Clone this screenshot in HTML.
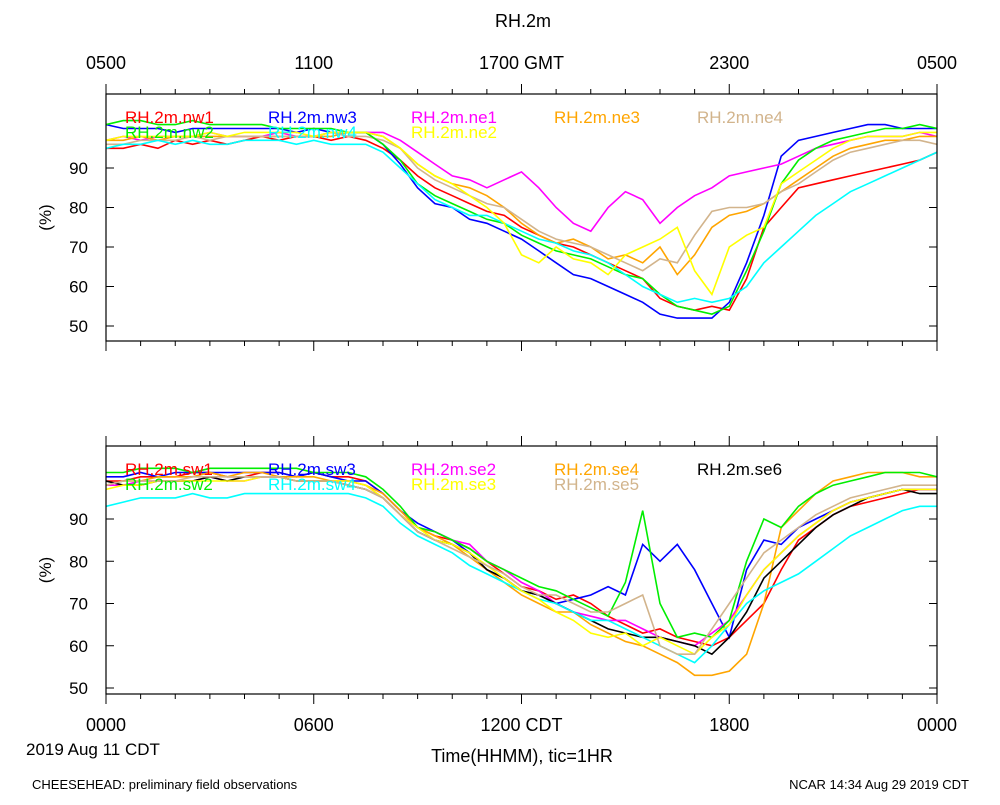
<!DOCTYPE html>
<html><head><meta charset="utf-8"><style>
body{margin:0;background:#fff}
svg{font-family:"Liberation Sans",sans-serif}
</style></head><body>
<svg id="c" width="1000" height="800"></svg>
<script>
const hours=[];for(let i=0;i<=48;i++)hours.push(i*0.5);
const topNames=["RH.2m.nw1","RH.2m.nw3","RH.2m.ne1","RH.2m.ne3","RH.2m.ne4","RH.2m.nw2","RH.2m.nw4","RH.2m.ne2"];
const topColors=["#ff0000","#0000ff","#ff00ff","#ffa500","#d2b48c","#00ee00","#00ffff","#ffff00"];
const nw1=[95,95,96,95,97,96,97,96,97,98,97,98,98,97,98,97,95,92,88,85,83,81,79,78,75,73,71,70,68,66,64,62,57,55,54,55,54,62,75,80,85,86,87,88,89,90,91,92,94];
const nw3=[101,100,100,100,99,100,100,100,100,100,100,99,100,99,99,99,96,91,85,81,80,77,76,74,72,69,66,63,62,60,58,56,53,52,52,52,56,66,78,93,97,98,99,100,101,101,100,100,100];
const ne1=[97,98,97,98,98,98,99,98,98,98,99,98,98,99,99,99,99,97,94,91,88,87,85,87,89,85,80,76,74,80,84,82,76,80,83,85,88,89,90,91,93,95,96,97,98,98,98,99,98];
const ne3=[97,97,98,97,98,98,98,98,98,98,98,98,98,98,99,99,98,95,91,88,86,85,83,80,76,73,71,72,70,67,68,66,70,63,68,75,78,79,81,84,87,90,93,95,96,97,97,98,98];
const ne4=[96,96,97,97,97,98,97,98,98,98,98,98,98,99,98,98,97,95,90,87,85,83,81,80,77,74,72,71,70,68,66,64,67,66,73,79,80,80,81,84,86,89,92,94,95,96,97,97,96];
const nw2=[101,102,102,101,101,102,101,101,101,101,100,100,100,100,99,99,96,92,86,83,81,79,77,76,73,71,69,68,67,65,63,62,58,55,54,53,55,64,74,86,92,95,97,98,99,100,100,101,100];
const nw4=[95,96,96,97,96,97,96,96,97,97,97,96,97,96,96,96,94,90,86,82,80,78,78,76,74,72,71,69,68,66,63,60,58,56,57,56,57,60,66,70,74,78,81,84,86,88,90,92,94];
const ne2=[97,98,98,98,98,98,99,98,99,99,99,99,98,99,99,99,98,95,91,88,86,83,80,76,68,66,70,67,66,63,68,70,72,75,64,58,70,73,75,86,89,92,95,97,98,98,98,99,99];
const topSeries=[nw1,nw3,ne1,ne3,ne4,nw2,nw4,ne2];
const botNames=["RH.2m.sw1","RH.2m.sw3","RH.2m.se2","RH.2m.se4","RH.2m.se6","RH.2m.sw2","RH.2m.sw4","RH.2m.se3","RH.2m.se5"];
const botColors=["#ff0000","#0000ff","#ff00ff","#ffa500","#000000","#00ee00","#00ffff","#ffff00","#d2b48c"];
const sw1=[99,99,100,100,100,101,101,100,100,101,101,100,101,100,100,99,96,92,88,86,85,83,80,77,74,73,71,72,70,67,65,63,64,62,61,60,62,66,70,78,85,88,91,93,94,95,96,97,97];
const sw3=[100,100,101,100,101,101,101,101,101,101,101,100,101,100,99,99,96,92,89,87,85,82,78,76,73,72,70,71,72,74,72,84,80,84,78,70,62,78,85,84,88,90,92,94,95,96,97,97,97];
const se2=[98,98,99,99,99,99,100,99,99,100,100,99,99,99,99,98,95,91,88,87,85,84,80,78,75,73,70,68,67,66,66,64,62,61,60,63,66,72,78,82,86,89,92,94,95,96,97,97,97];
const se4=[98,99,99,100,100,100,101,100,101,101,100,100,100,99,99,98,96,92,88,86,84,81,78,75,72,70,68,68,65,63,61,60,58,56,53,53,54,58,70,88,92,96,99,100,101,101,101,100,100];
const se6=[99,98,98,99,99,99,100,99,100,100,100,99,99,99,98,97,95,91,87,85,84,82,78,76,73,72,70,68,66,64,63,62,62,61,60,58,62,68,76,80,84,88,91,93,95,96,97,96,96];
const sw2=[101,101,102,102,102,101,102,102,102,102,102,102,101,101,101,100,97,93,88,87,85,83,80,78,76,74,73,71,69,67,75,92,70,62,63,62,66,80,90,88,93,96,98,99,100,101,101,101,100];
const sw4=[93,94,95,95,95,96,95,95,96,96,96,96,96,96,96,95,93,89,86,84,82,79,77,75,73,71,70,68,66,66,64,62,60,58,56,60,65,70,73,75,77,80,83,86,88,90,92,93,93];
const se3=[97,98,98,99,99,99,99,99,99,100,100,99,99,99,99,98,95,91,88,85,84,82,79,76,73,71,68,66,63,62,63,60,62,60,58,62,65,72,78,82,86,89,92,94,95,96,97,97,97];
const se5=[98,99,99,99,99,100,100,100,100,100,100,99,99,99,98,97,95,91,87,85,83,81,79,77,74,72,72,70,68,68,70,72,60,58,58,64,70,76,82,85,88,91,93,95,96,97,98,98,98];
const botSeries=[sw1,sw3,se2,se4,se6,sw2,sw4,se3,se5];
const yTicks=[50,60,70,80,90];
const topXLabels=["0500","1100","1700 GMT","2300","0500"];
const botXLabels=["0000","0600","1200 CDT","1800","0000"];

const NS="http://www.w3.org/2000/svg";
const svg=document.getElementById('c');
function mk(tag,attrs,parent){const e=document.createElementNS(NS,tag);for(const k in attrs)e.setAttribute(k,attrs[k]);(parent||svg).appendChild(e);return e;}
function txt(s,x,y,size,anchor,fill,name,parent){const t=mk('text',{x:x,y:y,'font-size':size,'text-anchor':anchor||'start',fill:fill||'#000'},parent);t.textContent=s;


return t;}
const X0=106,X1=937;
const xs=h=>X0+h*(X1-X0)/24;

function panel(top,bot,y50,y90,names,colors,series,prefix,xLabels,labelsAbove){
  const g=mk('g',{});
  
  
  const ys=v=>y50+(v-50)*(y90-y50)/40;
  const clipId=prefix+'clip';
  const cp=mk('clipPath',{id:clipId},g);mk('rect',{x:X0,y:top,width:X1-X0,height:bot-top},cp);
  const lg=mk('g',{'clip-path':'url(#'+clipId+')'},g);
  series.forEach((s,i)=>{
    const p=mk('polyline',{points:s.map((v,j)=>xs(hours[j]).toFixed(1)+','+ys(v).toFixed(1)).join(' '),fill:'none',stroke:colors[i],'stroke-width':1.6},lg);
    
    
  });
  const fr=mk('rect',{x:X0,y:top,width:X1-X0,height:bot-top,fill:'none',stroke:'#000','stroke-width':1.2},g);
  
  
  for(let h=0;h<=24;h++){
    const L=h%6===0?10:5,x=xs(h);
    mk('line',{x1:x,y1:bot,x2:x,y2:bot+L,stroke:'#000'},g);
    mk('line',{x1:x,y1:top,x2:x,y2:top-L,stroke:'#000'},g);
  }
  yTicks.forEach(v=>{const y=ys(v);
    mk('line',{x1:X0,y1:y,x2:X0+8,y2:y,stroke:'#000'},g);
    mk('line',{x1:X1,y1:y,x2:X1-8,y2:y,stroke:'#000'},g);
    txt(String(v),88,y+6,17,'end','#000',prefix+'-y-tick-'+v,g);
  });
  const cy=(top+bot)/2;
  const yt=mk('text',{x:0,y:0,'font-size':17,'text-anchor':'middle',transform:'translate(51,'+cy+') rotate(-90)'},g);
  yt.textContent='(%)';
  
  
  xLabels.forEach((s,i)=>{
    const x=xs(i*6);
    txt(s,x,labelsAbove?69:731,18,'middle','#000',prefix+'-x-tick-'+i,g);
  });
  const lx=[125,268,411,554,697];
  names.forEach((n,i)=>{
    const row=i<5?0:1,col=i<5?i:i-5;
    txt(n,lx[col],top+(row?44:29),17,'start',colors[i],'legend-'+n.replace(/\./g,'-').toLowerCase(),g);
  });
}
txt('RH.2m',523,27,18,'middle','#000','chart-title');
panel(94,341,326,168,topNames,topColors,topSeries,'top',topXLabels,true);
panel(446,694,688,519,botNames,botColors,botSeries,'bottom',botXLabels,false);
txt('2019 Aug 11 CDT',26,755,17,'start','#000','date-label');
txt('Time(HHMM), tic=1HR',522,762,18,'middle','#000','x-axis-title');
txt('CHEESEHEAD: preliminary field observations',32,789,13,'start','#000','footer-left');
txt('NCAR 14:34 Aug 29 2019 CDT',969,789,13,'end','#000','footer-right');
</script>
</body></html>
